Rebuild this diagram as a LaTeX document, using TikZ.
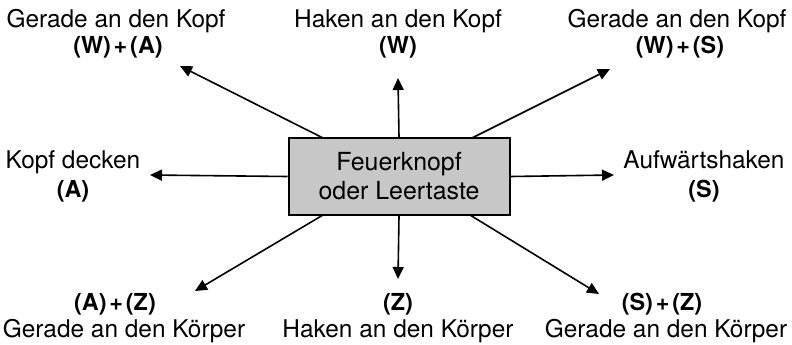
\documentclass[tikz,border=0pt]{standalone}
\usepackage{fontspec}
\setmainfont{TeX Gyre Heros}
\usetikzlibrary{arrows.meta}
\newcommand{\pl}{\hspace{0.12em}+\hspace{0.12em}}
\begin{document}
\begin{tikzpicture}[x=1bp,y=-1bp,
  lbl/.style={font=\fontsize{24.5}{28}\selectfont, inner sep=0pt, anchor=base},
  blbl/.style={font=\fontsize{23.5}{26}\selectfont\bfseries, inner sep=0pt, anchor=base},
  arr/.style={line width=1.6bp, -{Triangle[length=12bp,width=11bp]}},
  centerbox/.style={draw, line width=2bp, fill=black!22, minimum width=221bp, minimum height=77bp, inner sep=0pt, align=center, font=\fontsize{25}{29}\selectfont}]
\useasboundingbox (0,0) rectangle (792,344);
\node[centerbox] (box) at (399,176.5) {Feuerknopf\\oder Leertaste};
% end points
\coordinate (tUL) at (180,66);
\coordinate (tU) at (398,78);
\coordinate (tUR) at (610,69);
\coordinate (tL) at (150,175);
\coordinate (tR) at (614,175);
\coordinate (tDL) at (195,291);
\coordinate (tD) at (398,279);
\coordinate (tDR) at (599,294);
\coordinate (sUL) at (323,138);
\coordinate (sUR) at (472,138);
\coordinate (sDL) at (323,215);
\coordinate (sDR) at (470,215);
\draw[arr] (sUL) -- (tUL);
\draw[arr] (box.north) -- (tU);
\draw[arr] (sUR) -- (tUR);
\draw[arr] (box.west) -- (tL);
\draw[arr] (box.east) -- (tR);
\draw[arr] (sDL) -- (tDL);
\draw[arr] (box.south) -- (tD);
\draw[arr] (sDR) -- (tDR);
% labels
\node[lbl] (l1) at (116,27) {Gerade an den Kopf};
\node[blbl] (l1b) at (118,53) {(W)\pl(A)};
\node[lbl] (l2) at (398,27) {Haken an den Kopf};
\node[blbl] (l2b) at (398,53) {(W)};
\node[lbl] (l3) at (677,27) {Gerade an den Kopf};
\node[blbl] (l3b) at (680,53) {(W)\pl(S)};
\node[lbl] (l4) at (73,168) {Kopf decken};
\node[blbl] (l4b) at (73,197) {(A)};
\node[lbl] (l5) at (704,168) {Aufwärtshaken};
\node[blbl] (l5b) at (704,197) {(S)};
\node[blbl] (l6b) at (115,310) {(A)\pl(Z)};
\node[lbl] (l6) at (124,337) {Gerade an den Körper};
\node[blbl] (l7b) at (398,310) {(Z)};
\node[lbl] (l7) at (398,337) {Haken an den Körper};
\node[blbl] (l8b) at (662,310) {(S)\pl(Z)};
\node[lbl] (l8) at (666,337) {Gerade an den Körper};
\end{tikzpicture}
\end{document}
